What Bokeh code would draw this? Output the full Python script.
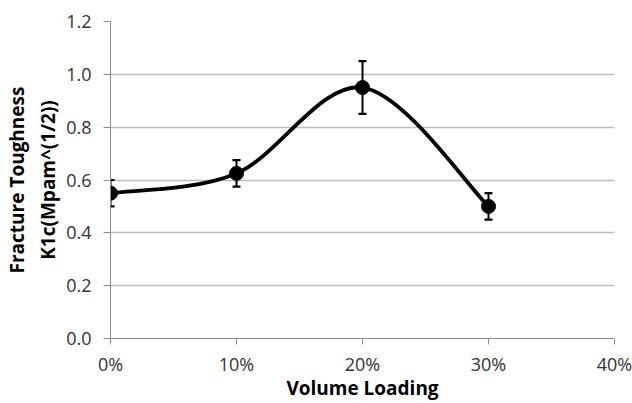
from bokeh.plotting import figure
from bokeh.models import Range1d, FixedTicker, ColumnDataSource
from bokeh.embed import file_html
from bokeh.resources import INLINE

loading = [0, 10, 20, 30]
toughness = [0.55, 0.625, 0.95, 0.50]
err = [0.05, 0.05, 0.10, 0.05]
x_ticks = [0, 10, 20, 30, 40]
x_tick_labels = ["0%", "10%", "20%", "30%", "40%"]
y_ticks = [0.0, 0.2, 0.4, 0.6, 0.8, 1.0, 1.2]
x_title = "Volume Loading"
y_title = "Fracture Toughness\nK1c(Mpam^(1/2))"

p = figure(width=632, height=403, output_backend="svg", toolbar_location=None,
           x_range=Range1d(0, 40), y_range=Range1d(0, 1.2),
           min_border_left=110, min_border_right=18, min_border_top=21, min_border_bottom=64)
p.outline_line_color = None
p.background_fill_color = "white"
p.border_fill_color = "white"

# smooth line (Catmull-Rom style, like Excel's smoothed line) through the data points
n = len(loading)
x0, y0, x1, y1, cx0, cy0, cx1, cy1 = [], [], [], [], [], [], [], []
for i in range(n - 1):
    pa = (loading[max(i - 1, 0)], toughness[max(i - 1, 0)])
    pb = (loading[i], toughness[i])
    pc = (loading[i + 1], toughness[i + 1])
    pd = (loading[min(i + 2, n - 1)], toughness[min(i + 2, n - 1)])
    x0.append(pb[0]); y0.append(pb[1]); x1.append(pc[0]); y1.append(pc[1])
    cx0.append(pb[0] + (pc[0] - pa[0]) / 6); cy0.append(pb[1] + (pc[1] - pa[1]) / 6)
    cx1.append(pc[0] - (pd[0] - pb[0]) / 6); cy1.append(pc[1] - (pd[1] - pb[1]) / 6)
p.bezier(x0=x0, y0=y0, x1=x1, y1=y1, cx0=cx0, cy0=cy0, cx1=cx1, cy1=cy1,
         line_color="black", line_width=3.8)

src = ColumnDataSource(dict(x=loading, y=toughness,
                            lo=[t - e for t, e in zip(toughness, err)],
                            hi=[t + e for t, e in zip(toughness, err)]))
p.segment(x0="x", y0="lo", x1="x", y1="hi", source=src, line_color="black", line_width=2)
p.scatter("x", "hi", source=src, marker="dash", size=8, line_color="black", line_width=2.2)
p.scatter("x", "lo", source=src, marker="dash", size=8, line_color="black", line_width=2.2)
p.scatter("x", "y", source=src, size=14, color="black")

font = "Open Sans"
p.xaxis.ticker = FixedTicker(ticks=x_ticks)
p.xaxis.major_label_overrides = {t: l for t, l in zip(x_ticks, x_tick_labels)}
p.yaxis.ticker = FixedTicker(ticks=y_ticks)
p.yaxis.major_label_overrides = {t: f"{t:.1f}" for t in y_ticks}

for ax in (p.xaxis[0], p.yaxis[0]):
    ax.axis_line_color = "#8c8c8c"
    ax.major_tick_line_color = "#8c8c8c"
    ax.minor_tick_line_color = None
    ax.major_tick_in = 0
    ax.major_label_text_font = font
    ax.major_label_text_font_size = "18px"
    ax.major_label_text_color = "#333333"
    ax.axis_label_text_font = font
    ax.axis_label_text_font_style = "bold"
    ax.axis_label_text_font_size = "19px"
    ax.axis_label_text_color = "black"

p.yaxis.major_tick_out = 7
p.xaxis.major_tick_out = 6
p.yaxis.major_label_standoff = 12
p.xaxis.major_label_standoff = 7
p.yaxis.axis_label = y_title
p.yaxis.axis_label_standoff = 2
p.xaxis.axis_label = x_title
p.xaxis.axis_label_standoff = -4

p.xgrid.grid_line_color = None
p.ygrid.grid_line_color = "#bdbdbd"
p.ygrid.grid_line_width = 1.3

open("out.html", "w").write(file_html(p, INLINE))
